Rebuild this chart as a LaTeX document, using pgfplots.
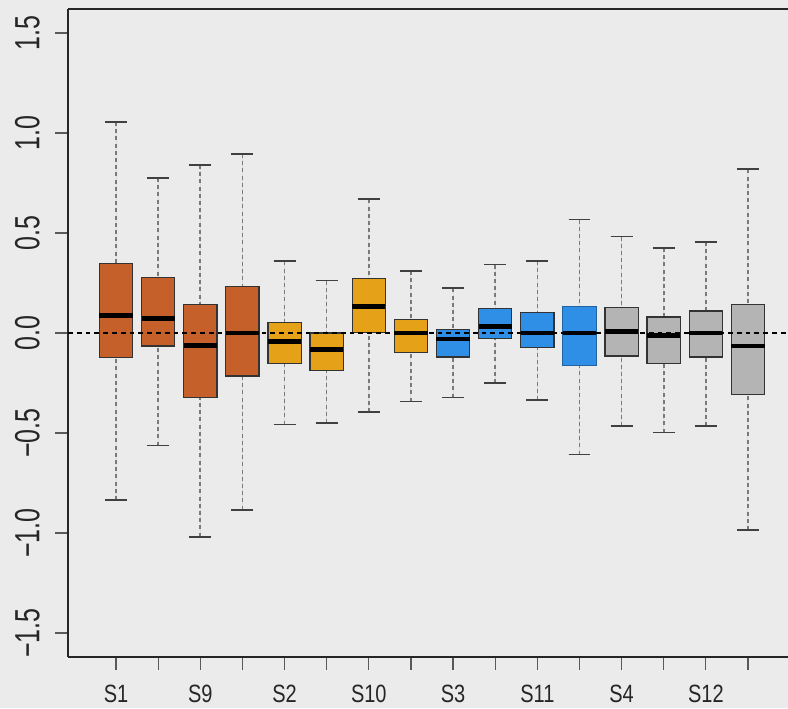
\documentclass[border=0pt]{standalone}
\usepackage{graphicx}
\usepackage{fontspec}
\setmainfont{Liberation Sans}
\usepackage{pgfplots}
\pgfplotsset{compat=1.18}
\usepgfplotslibrary{statistics}
\definecolor{bg}{HTML}{EBEBEB}
\definecolor{cbrown}{HTML}{C5602A}
\definecolor{cgold}{HTML}{E5A118}
\definecolor{cblue}{HTML}{2F8EE5}
\definecolor{cgray}{HTML}{B4B4B4}
\definecolor{wgray}{HTML}{7A7A7A}
\newcommand{\yl}[1]{\scalebox{1}[1.4]{#1}}
\newcommand{\xl}[1]{\scalebox{0.8}[1]{#1}}
\begin{document}
\begin{tikzpicture}
\fill[bg] (0,0) rectangle (394pt,354pt);
\useasboundingbox (0,0) rectangle (394pt,354pt);
\begin{axis}[
  at={(34pt,25.5pt)}, anchor=south west,
  scale only axis, width=360pt, height=324pt,
  xmin=-0.14, xmax=16.95, ymin=-1.62, ymax=1.62,
  axis x line*=box, axis y line*=left,
  axis line style={-, draw=black!85, line width=0.8pt},
  xtick pos=bottom, ytick pos=left,
  tick align=outside, major tick length=6.5pt,
  tick style={draw=black!65, line width=0.6pt},
  xtick={1,...,16},
  xticklabels={\xl{S1},,\xl{S9},,\xl{S2},,\xl{S10},,\xl{S3},,\xl{S11},,\xl{S4},,\xl{S12},},
  ytick={-1.5,-1,-0.5,0,0.5,1,1.5},
  yticklabels={\yl{−1.5},\yl{−1.0},\yl{−0.5},\yl{0.0},\yl{0.5},\yl{1.0},\yl{1.5}},
  ticklabel style={font=\fontsize{12.5}{12.5}\selectfont, text=black!85},
  yticklabel style={rotate=90, anchor=south, inner sep=0pt, yshift=7.5pt},
  xticklabel style={anchor=north, inner sep=0pt, yshift=-7.2pt},
  boxplot/draw direction=y,
  boxplot/box extend=0.79,
  boxplot/whisker extend=0.52,
  boxplot/every median/.style={draw=black, line width=2.2pt},
  boxplot/draw/lower whisker/.code={%
    \draw[wgray, line width=0.8pt, dash pattern=on 2pt off 1.6pt]
      (boxplot cs:\pgfplotsboxplotvalue{lower whisker}) -- (boxplot cs:\pgfplotsboxplotvalue{lower quartile});
    \draw[black!75, line width=0.9pt, solid]
      (boxplot whisker cs:\pgfplotsboxplotvalue{lower whisker},0) -- (boxplot whisker cs:\pgfplotsboxplotvalue{lower whisker},1);
  },
  boxplot/draw/upper whisker/.code={%
    \draw[wgray, line width=0.8pt, dash pattern=on 2pt off 1.6pt]
      (boxplot cs:\pgfplotsboxplotvalue{upper whisker}) -- (boxplot cs:\pgfplotsboxplotvalue{upper quartile});
    \draw[black!75, line width=0.9pt, solid]
      (boxplot whisker cs:\pgfplotsboxplotvalue{upper whisker},0) -- (boxplot whisker cs:\pgfplotsboxplotvalue{upper whisker},1);
  },
]
% brown
\addplot[boxplot prepared={draw position=1, lower whisker=-0.835, lower quartile=-0.123, median=0.087, upper quartile=0.347, upper whisker=1.055}, fill=cbrown, draw=black!80, line width=0.6pt] coordinates {};
\addplot[boxplot prepared={draw position=2, lower whisker=-0.563, lower quartile=-0.065, median=0.072, upper quartile=0.277, upper whisker=0.775}, fill=cbrown, draw=black!80, line width=0.6pt] coordinates {};
\addplot[boxplot prepared={draw position=3, lower whisker=-1.018, lower quartile=-0.323, median=-0.062, upper quartile=0.143, upper whisker=0.840}, fill=cbrown, draw=black!80, line width=0.6pt] coordinates {};
\addplot[boxplot prepared={draw position=4, lower whisker=-0.883, lower quartile=-0.215, median=0.000, upper quartile=0.232, upper whisker=0.895}, fill=cbrown, draw=black!80, line width=0.6pt] coordinates {};
% gold
\addplot[boxplot prepared={draw position=5, lower whisker=-0.458, lower quartile=-0.153, median=-0.042, upper quartile=0.053, upper whisker=0.358}, fill=cgold, draw=black!80, line width=0.6pt] coordinates {};
\addplot[boxplot prepared={draw position=6, lower whisker=-0.450, lower quartile=-0.187, median=-0.083, upper quartile=0.000, upper whisker=0.262}, fill=cgold, draw=black!80, line width=0.6pt] coordinates {};
\addplot[boxplot prepared={draw position=7, lower whisker=-0.395, lower quartile=0.002, median=0.133, upper quartile=0.273, upper whisker=0.668}, fill=cgold, draw=black!80, line width=0.6pt] coordinates {};
\addplot[boxplot prepared={draw position=8, lower whisker=-0.343, lower quartile=-0.098, median=0.000, upper quartile=0.068, upper whisker=0.310}, fill=cgold, draw=black!80, line width=0.6pt] coordinates {};
% blue
\addplot[boxplot prepared={draw position=9, lower whisker=-0.323, lower quartile=-0.120, median=-0.030, upper quartile=0.018, upper whisker=0.223}, fill=cblue, draw=black!80, line width=0.6pt] coordinates {};
\addplot[boxplot prepared={draw position=10, lower whisker=-0.250, lower quartile=-0.027, median=0.032, upper quartile=0.123, upper whisker=0.342}, fill=cblue, draw=black!80, line width=0.6pt] coordinates {};
\addplot[boxplot prepared={draw position=11, lower whisker=-0.335, lower quartile=-0.073, median=0.000, upper quartile=0.102, upper whisker=0.360}, fill=cblue, draw=black!80, line width=0.6pt] coordinates {};
\addplot[boxplot prepared={draw position=12, lower whisker=-0.608, lower quartile=-0.162, median=0.000, upper quartile=0.135, upper whisker=0.567}, fill=cblue, draw=cblue!70!black, line width=0.4pt] coordinates {};
% gray
\addplot[boxplot prepared={draw position=13, lower whisker=-0.467, lower quartile=-0.115, median=0.007, upper quartile=0.127, upper whisker=0.482}, fill=cgray, draw=black!80, line width=0.6pt] coordinates {};
\addplot[boxplot prepared={draw position=14, lower whisker=-0.498, lower quartile=-0.153, median=-0.012, upper quartile=0.080, upper whisker=0.425}, fill=cgray, draw=black!80, line width=0.6pt] coordinates {};
\addplot[boxplot prepared={draw position=15, lower whisker=-0.467, lower quartile=-0.120, median=0.000, upper quartile=0.110, upper whisker=0.455}, fill=cgray, draw=black!80, line width=0.6pt] coordinates {};
\addplot[boxplot prepared={draw position=16, lower whisker=-0.985, lower quartile=-0.307, median=-0.065, upper quartile=0.143, upper whisker=0.818}, fill=cgray, draw=black!80, line width=0.6pt] coordinates {};
% zero line
\addplot[black, line width=0.7pt, dash pattern=on 2.4pt off 2pt] coordinates {(-0.14,0) (16.95,0)};
\end{axis}
\end{tikzpicture}
\end{document}
